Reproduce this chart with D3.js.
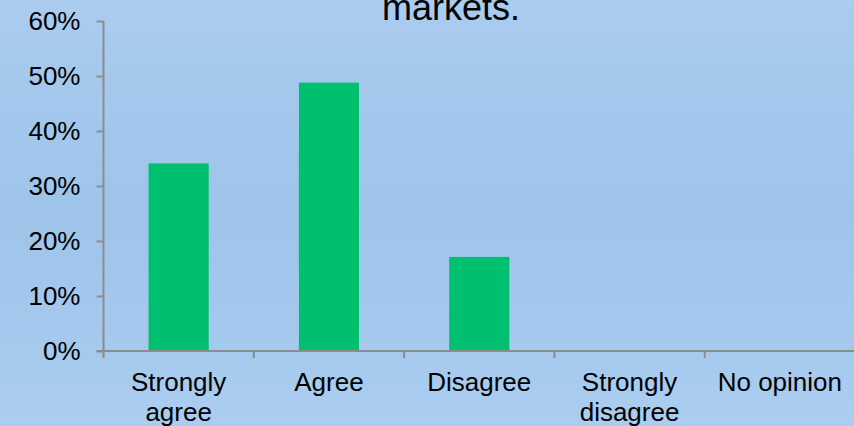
<!DOCTYPE html>
<html>
<head>
<meta charset="utf-8">
<script src="https://cdn.jsdelivr.net/npm/d3@7"></script>
<style>
  html, body { margin: 0; padding: 0; overflow: hidden; }
  svg { display: block; font-family: "Liberation Sans", Arial, sans-serif; }
</style>
</head>
<body>
<svg id="chart" width="854" height="426"></svg>
<script>
// Survey responses (share of respondents)
const categories = ["Strongly agree", "Agree", "Disagree", "Strongly disagree", "No opinion"];
const categoryLines = [["Strongly", "agree"], ["Agree"], ["Disagree"], ["Strongly", "disagree"], ["No opinion"]];
const values = [0.341, 0.488, 0.171, 0, 0];
const yTicks = [0, 0.1, 0.2, 0.3, 0.4, 0.5, 0.6];
const titleLines = ["markets."];

const W = 854, H = 426;
const svg = d3.select("#chart");

// background gradient
const defs = svg.append("defs");
const grad = defs.append("linearGradient").attr("id", "bg").attr("x1", 0).attr("y1", 0).attr("x2", 0).attr("y2", 1);
grad.append("stop").attr("offset", "0%").attr("stop-color", "#a9ccef");
grad.append("stop").attr("offset", "50%").attr("stop-color", "#9ec4ea");
grad.append("stop").attr("offset", "100%").attr("stop-color", "#aacdf0");
svg.append("rect").attr("width", W).attr("height", H).attr("fill", "url(#bg)");

const x0 = 103.5, x1 = 855, yTop = 21, yBot = 351;

const x = d3.scaleBand().domain(categories).range([x0, x1]).paddingInner(0).paddingOuter(0);
const y = d3.scaleLinear().domain([0, 0.6]).range([yBot, yTop]);

const barW = x.bandwidth() * 0.4;

// bars
svg.append("g").selectAll("rect").data(categories).join("rect")
  .attr("x", d => x(d) + (x.bandwidth() - barW) / 2)
  .attr("y", (d, i) => y(values[i]))
  .attr("width", barW)
  .attr("height", (d, i) => yBot - y(values[i]))
  .attr("fill", "#00bf6f");

const axisColor = "#8c8c8c";

// y axis
const yAxis = svg.append("g").attr("transform", `translate(${x0},0)`)
  .call(d3.axisLeft(y).tickValues(yTicks).tickFormat(d3.format(".0%")).tickSize(7).tickPadding(16));
yAxis.select(".domain").attr("stroke", axisColor).attr("stroke-width", 2).attr("d", `M0,${yTop}V${yBot}`);
yAxis.selectAll(".tick line").attr("stroke", axisColor).attr("stroke-width", 2);
yAxis.selectAll(".tick text").attr("fill", "#000").attr("font-size", 26).attr("font-family", "Liberation Sans, Arial, sans-serif");

// x axis
const xAxis = svg.append("g").attr("transform", `translate(0,${yBot})`);
xAxis.append("line").attr("x1", x0 - 7).attr("x2", x1).attr("y1", 0).attr("y2", 0)
  .attr("stroke", axisColor).attr("stroke-width", 2);
const boundaries = categories.map(c => x(c)).concat([x1]);
xAxis.selectAll("line.tk").data(boundaries).join("line").attr("class", "tk")
  .attr("x1", d => d).attr("x2", d => d).attr("y1", 0).attr("y2", 7)
  .attr("stroke", axisColor).attr("stroke-width", 2);

const lbl = xAxis.selectAll("text").data(categories).join("text")
  .attr("text-anchor", "middle")
  .attr("font-size", 26)
  .attr("fill", "#000");
lbl.each(function (d, i) {
  const t = d3.select(this);
  categoryLines[i].forEach((line, j) => {
    t.append("tspan").attr("x", x(d) + x.bandwidth() / 2).attr("y", 40 + j * 30).text(line);
  });
});

// title
svg.append("g").selectAll("text").data(titleLines).join("text")
  .attr("x", 451).attr("y", 20 - (titleLines.length - 1) * 40)
  .attr("text-anchor", "middle")
  .attr("font-size", 36)
  .attr("fill", "#000")
  .text(d => d);
</script>
</body>
</html>
